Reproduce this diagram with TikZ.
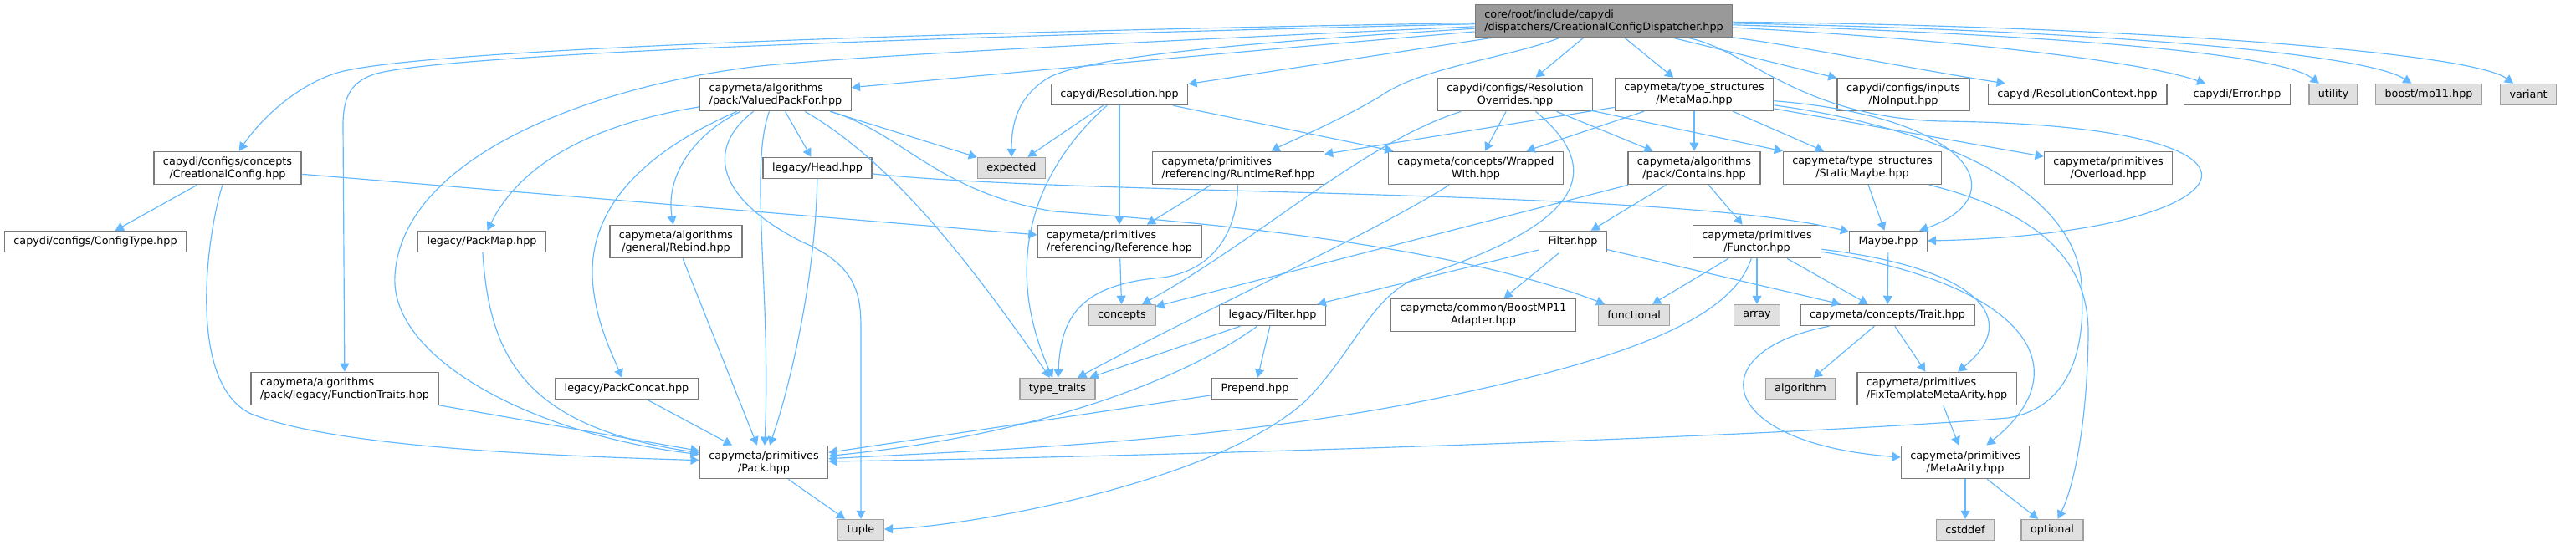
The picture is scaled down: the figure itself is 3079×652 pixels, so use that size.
\documentclass[tikz,border=0pt]{standalone}
\usepackage{fontspec}
\setmainfont{DejaVu Sans}
\usetikzlibrary{arrows.meta}
\definecolor{edgeblue}{HTML}{63B8FF}
\definecolor{boxgray}{HTML}{7A7A7A}
\definecolor{sysgray}{HTML}{A0A0A0}
\definecolor{rootfill}{HTML}{999999}
\definecolor{sysfill}{HTML}{E0E0E0}

\begin{document}
\begin{tikzpicture}[x=0.01cm,y=-0.01cm,>={Triangle[length=1.0mm,width=1.1mm]},
  incl/.style={draw=boxgray,fill=white,line width=0.4pt,inner xsep=0.11cm,inner ysep=0.06cm,
    minimum height=0.25cm,align=center,font=\fontsize{3.63}{4.27}\selectfont},
  stdincl/.style={incl,draw=sysgray,fill=sysfill},
  rootincl/.style={incl,fill=rootfill},
  dep/.style={->,draw=edgeblue,line width=0.33pt}]
\useasboundingbox (0,0) rectangle (3079,652);
%\draw[red] (0,0) rectangle (3079,652);
\node[rootincl,align=left] (main) at (1917,25) {core/root/include/capydi\\/dispatchers/CreationalConfigDispatcher.hpp};
\node[incl,align=left] (vpf) at (927,113) {capymeta/algorithms\\/pack/ValuedPackFor.hpp};
\node[incl] (resol) at (1338,113) {capydi/Resolution.hpp};
\node[incl] (roverr) at (1811,113) {capydi/configs/Resolution\\Overrides.hpp};
\node[incl] (metamap) at (2025,113) {capymeta/type\_structures\\/MetaMap.hpp};
\node[incl] (noinput) at (2275,113) {capydi/configs/inputs\\/NoInput.hpp};
\node[incl] (rctx) at (2483,113) {capydi/ResolutionContext.hpp};
\node[incl] (err) at (2674,113) {capydi/Error.hpp};
\node[stdincl] (utility) at (2789,113) {utility};
\node[stdincl] (mpeleven) at (2903,113) {boost/mp11.hpp};
\node[stdincl] (variant) at (3022,113) {variant};
\node[incl] (ccfg) at (272,201) {capydi/configs/concepts\\/CreationalConfig.hpp};
\node[incl] (head) at (977,201) {legacy/Head.hpp};
\node[stdincl] (expected) at (1209,201) {expected};
\node[incl,align=left] (rtref) at (1480,201) {capymeta/primitives\\/referencing/RuntimeRef.hpp};
\node[incl] (wrapped) at (1764,201) {capymeta/concepts/Wrapped\\WIth.hpp};
\node[incl] (contains) at (2025,201) {capymeta/algorithms\\/pack/Contains.hpp};
\node[incl] (smaybe) at (2226,201) {capymeta/type\_structures\\/StaticMaybe.hpp};
\node[incl] (overload) at (2520,201) {capymeta/primitives\\/Overload.hpp};
\node[incl] (cfgtype) at (114,289) {capydi/configs/ConfigType.hpp};
\node[incl] (packmap) at (576,289) {legacy/PackMap.hpp};
\node[incl] (rebind) at (808,289) {capymeta/algorithms\\/general/Rebind.hpp};
\node[incl,align=left] (ref) at (1338,289) {capymeta/primitives\\/referencing/Reference.hpp};
\node[incl] (filter) at (1880,289) {Filter.hpp};
\node[incl] (functor) at (2100,289) {capymeta/primitives\\/Functor.hpp};
\node[incl] (maybe) at (2257,289) {Maybe.hpp};
\node[stdincl] (concepts) at (1341,377) {concepts};
\node[incl] (lfilter) at (1521,377) {legacy/Filter.hpp};
\node[incl] (boostadapt) at (1773,377) {capymeta/common/BoostMP11\\Adapter.hpp};
\node[stdincl] (functional) at (1953,377) {functional};
\node[stdincl] (array) at (2100,377) {array};
\node[incl] (trait) at (2256,377) {capymeta/concepts/Trait.hpp};
\node[incl,align=left] (ftraits) at (412,465) {capymeta/algorithms\\/pack/legacy/FunctionTraits.hpp};
\node[incl] (packconcat) at (749,465) {legacy/PackConcat.hpp};
\node[stdincl] (typetraits) at (1264,465) {type\_traits};
\node[incl] (prepend) at (1500,465) {Prepend.hpp};
\node[stdincl] (algorithm) at (2152,465) {algorithm};
\node[incl,align=left] (fixarity) at (2315,465) {capymeta/primitives\\/FixTemplateMetaArity.hpp};
\node[incl] (pack) at (913,553) {capymeta/primitives\\/Pack.hpp};
\node[incl] (metaarity) at (2349,553) {capymeta/primitives\\/MetaArity.hpp};
\node[stdincl] (tuple) at (1029,634) {tuple};
\node[stdincl] (cstddef) at (2349,634) {cstddef};
\node[stdincl] (optional) at (2453,634) {optional};
% dispatcher
\draw[dep] (main) .. controls (1300,35) and (500,55) .. (400,88) .. controls (350,105) and (310,145) .. (ccfg);
\draw[dep] (main) .. controls (1300,40) and (560,60) .. (450,88) .. controls (420,97) and (410,115) .. (410,150) -- (ftraits);
\draw[dep] (main) .. controls (1400,48) and (1000,68) .. (900,80) .. controls (700,105) and (480,190) .. (472,330) .. controls (466,430) and (640,520) .. (pack);
\draw[dep] (main) .. controls (1500,60) and (1200,88) .. (vpf);
\draw[dep] (main) .. controls (1500,50) and (1290,68) .. (1250,95) .. controls (1215,118) and (1209,150) .. (expected);
\draw[dep] (main) -- (resol);
\draw[dep] (main) .. controls (1800,70) and (1700,80) .. (1650,115) .. controls (1600,145) and (1540,170) .. (rtref);
\draw[dep] (main) -- (roverr);
\draw[dep] (main) -- (metamap);
\draw[dep] (main) -- (noinput);
\draw[dep] (main) .. controls (2090,60) and (2150,140) .. (2320,145) .. controls (2780,150) and (2690,280) .. (maybe);
\draw[dep] (main) .. controls (2150,55) and (2300,85) .. (rctx);
\draw[dep] (main) .. controls (2300,45) and (2550,70) .. (err);
\draw[dep] (main) .. controls (2400,40) and (2720,60) .. (utility);
\draw[dep] (main) .. controls (2450,35) and (2820,60) .. (mpeleven);
\draw[dep] (main) .. controls (2500,30) and (2950,60) .. (variant);
% rank 1
\draw[dep] (vpf) .. controls (700,150) and (620,200) .. (packmap);
\draw[dep] (vpf) .. controls (820,160) and (705,220) .. (708,330) .. controls (710,380) and (730,420) .. (packconcat);
\draw[dep] (vpf) .. controls (830,160) and (795,210) .. (rebind);
\draw[dep] (vpf) -- (head);
\draw[dep] (vpf) -- (expected);
\draw[dep] (vpf) .. controls (895,200) and (922,350) .. (pack);
\draw[dep] (vpf) .. controls (1060,190) and (1150,300) .. (typetraits);
\draw[dep] (vpf) .. controls (840,180) and (860,240) .. (960,290) .. controls (1030,320) and (1029,360) .. (1029,400) -- (tuple);
\draw[dep] (vpf) .. controls (1080,160) and (1120,230) .. (1260,253) .. controls (1500,270) and (1750,300) .. (functional);
\draw[dep] (resol) -- (expected);
\draw[dep] (resol) -- (ref);
\draw[dep] (resol) .. controls (1240,200) and (1195,310) .. (typetraits);
\draw[dep] (resol) -- (wrapped);
\draw[dep] (roverr) -- (wrapped);
\draw[dep] (roverr) -- (contains);
\draw[dep] (roverr) -- (smaybe);
\draw[dep] (roverr) .. controls (1630,170) and (1500,290) .. (concepts);
\draw[dep] (roverr) .. controls (1940,220) and (1850,280) .. (1700,330) .. controls (1640,350) and (1620,420) .. (1560,480) .. controls (1450,580) and (1150,630) .. (tuple);
\draw[dep] (metamap) -- (rtref);
\draw[dep] (metamap) -- (wrapped);
\draw[dep] (metamap) -- (contains);
\draw[dep] (metamap) -- (smaybe);
\draw[dep] (metamap) -- (overload);
\draw[dep] (metamap) .. controls (2360,140) and (2410,235) .. (maybe);
\draw[dep] (metamap) .. controls (2300,150) and (2480,220) .. (2488,340) .. controls (2495,440) and (2460,490) .. (2400,500) .. controls (2100,525) and (1300,548) .. (pack);
% rank 2
\draw[dep] (ccfg) -- (cfgtype);
\draw[dep] (ccfg) -- (ref);
\draw[dep] (ccfg) .. controls (245,290) and (225,460) .. (300,495) .. controls (400,535) and (650,545) .. (pack);
\draw[dep] (head) .. controls (975,330) and (945,460) .. (pack);
\draw[dep] (head) .. controls (1300,235) and (2000,225) .. (maybe);
\draw[dep] (rtref) -- (ref);
\draw[dep] (rtref) .. controls (1478,290) and (1440,325) .. (1390,332) .. controls (1290,340) and (1268,380) .. (typetraits);
\draw[dep] (wrapped) .. controls (1640,280) and (1420,380) .. (typetraits);
\draw[dep] (contains) -- (filter);
\draw[dep] (contains) -- (functor);
\draw[dep] (contains) -- (concepts);
\draw[dep] (smaybe) -- (maybe);
\draw[dep] (smaybe) .. controls (2420,250) and (2497,300) .. (2496,400) .. controls (2495,500) and (2480,580) .. (optional);
% rank 3
\draw[dep] (packmap) .. controls (585,420) and (620,510) .. (pack);
\draw[dep] (rebind) -- (pack);
\draw[dep] (ref) -- (concepts);
\draw[dep] (filter) -- (lfilter);
\draw[dep] (filter) -- (boostadapt);
\draw[dep] (filter) -- (trait);
\draw[dep] (functor) -- (functional);
\draw[dep] (functor) -- (array);
\draw[dep] (functor) -- (trait);
\draw[dep] (functor) .. controls (2070,380) and (1950,430) .. (1700,480) .. controls (1450,530) and (1150,540) .. (pack);
\draw[dep] (functor) .. controls (2360,320) and (2420,380) .. (fixarity);
\draw[dep] (functor) .. controls (2420,340) and (2490,440) .. (metaarity);
\draw[dep] (maybe) -- (trait);
% rank 4 and below
\draw[dep] (lfilter) -- (typetraits);
\draw[dep] (lfilter) -- (prepend);
\draw[dep] (lfilter) .. controls (1420,450) and (1250,520) .. (pack);
\draw[dep] (trait) -- (algorithm);
\draw[dep] (trait) -- (fixarity);
\draw[dep] (trait) .. controls (2030,420) and (2050,530) .. (metaarity);
\draw[dep] (ftraits) -- (pack);
\draw[dep] (packconcat) -- (pack);
\draw[dep] (prepend) -- (pack);
\draw[dep] (fixarity) -- (metaarity);
\draw[dep] (metaarity) -- (cstddef);
\draw[dep] (metaarity) -- (optional);
\draw[dep] (pack) -- (tuple);
\end{tikzpicture}
\end{document}
